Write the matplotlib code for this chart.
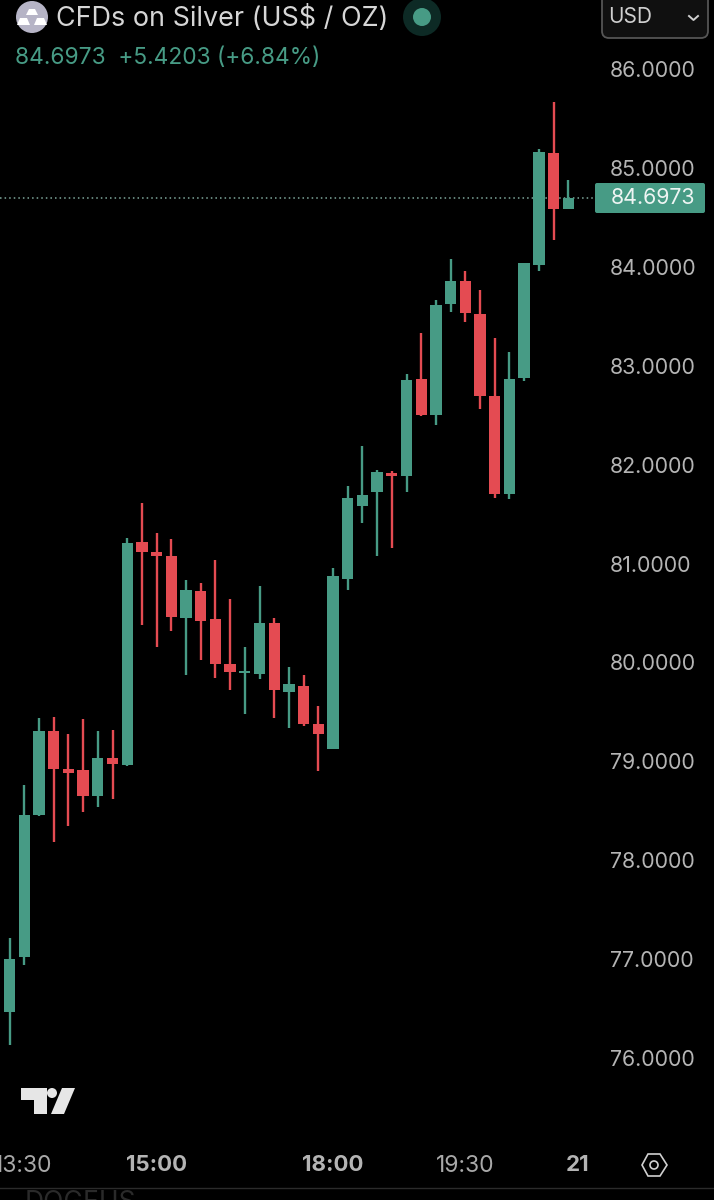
import matplotlib
matplotlib.use("Agg")
import matplotlib.pyplot as plt
from matplotlib.patches import Circle, FancyBboxPatch, Polygon

plt.rcParams['font.family'] = ['Inter', 'DejaVu Sans']

# candles, oldest first
opens = [76.46, 77.02, 78.45, 79.30, 78.92, 78.91, 78.65, 79.03, 78.96, 81.22,
         81.12, 81.08, 80.45, 80.72, 80.44, 79.98, 79.89, 79.88, 80.40, 79.70,
         79.76, 79.38, 79.12, 80.84, 81.58, 81.72, 81.92, 81.89, 82.87, 82.50,
         83.63, 83.86, 83.53, 82.70, 81.70, 82.88, 84.02, 85.15, 84.59]
highs = [77.21, 78.76, 79.44, 79.45, 79.27, 79.43, 79.30, 79.31, 81.26, 81.61,
         81.31, 81.25, 80.83, 80.80, 81.04, 80.64, 80.16, 80.77, 80.45, 79.95,
         79.87, 79.56, 80.95, 81.78, 82.19, 81.95, 81.94, 82.92, 83.33, 83.67,
         84.08, 83.96, 83.77, 83.28, 83.14, 84.04, 85.19, 85.67, 84.88]
lows = [76.13, 76.94, 78.44, 78.18, 78.34, 78.49, 78.54, 78.62, 78.95, 80.38,
        80.15, 80.32, 79.87, 80.02, 79.84, 79.72, 79.48, 79.83, 79.44, 79.34,
        79.36, 78.90, 79.12, 80.73, 81.41, 81.08, 81.16, 81.72, 82.49, 82.40,
        83.55, 83.44, 82.56, 81.66, 81.65, 82.85, 83.96, 84.27, 84.59]
closes = [77.00, 78.45, 79.30, 78.92, 78.88, 78.65, 79.03, 78.97, 81.21, 81.12,
          81.08, 80.46, 80.73, 80.42, 79.98, 79.90, 79.91, 80.40, 79.72, 79.78,
          79.38, 79.27, 80.87, 81.66, 81.69, 81.93, 81.89, 82.86, 82.50, 83.62,
          83.86, 83.54, 82.70, 81.70, 82.87, 84.04, 85.16, 84.59, 84.6973]

last_price = 84.6973
price_ticks = [76, 77, 78, 79, 80, 81, 82, 83, 84, 85, 86]
time_ticks = [0.95, 10, 22, 31, 38.6]
time_labels = ['13:30', '15:00', '18:00', '19:30', '21']
time_bold = [False, True, True, False, True]

GREEN = '#479b85'
RED = '#e44b52'

fig = plt.figure(figsize=(7.14, 12), dpi=100, facecolor='black')

# chart pane: 595 px wide, stops at y=1145 px
ax = fig.add_axes([0, 55 / 1200, 595 / 714, 1145 / 1200], facecolor='black')
colors = [GREEN if c >= o else RED for o, c in zip(opens, closes)]
idx = list(range(len(opens)))
ax.vlines(idx, lows, highs, colors=colors, linewidth=1.7, zorder=3)
ax.bar(idx, [max(abs(c - o), 0.02) for o, c in zip(opens, closes)],
       bottom=[min(o, c) for o, c in zip(opens, closes)],
       width=0.77, color=colors, linewidth=0, zorder=4)
ax.axhline(last_price, color='#7fa89c', linestyle=(0, (1, 2)), linewidth=1.1, zorder=2)

ax.set_xlim(-0.653, 39.82)
ax.set_ylim(75.115, 86.703)
for s in ax.spines.values():
    s.set_visible(False)
ax.yaxis.tick_right()
ax.set_yticks(price_ticks)
ax.set_yticklabels([f'{p:.4f}' for p in price_ticks])
ax.tick_params(axis='y', length=0, pad=10.5, labelsize=15.4, labelcolor='#b4b4b4')
ax.set_xticks(time_ticks)
ax.set_xticklabels(time_labels)
ax.tick_params(axis='x', length=0, pad=7.5, labelsize=16.5, labelcolor='#a8a8a8')
for lab, b in zip(ax.get_xticklabels(), time_bold):
    if b:
        lab.set_fontweight('bold')
        lab.set_fontsize(16)
        lab.set_color('#b4b4b4')

# everything around the chart, in image pixels
ui = fig.add_axes([0, 0, 1, 1], facecolor='none')
ui.set_xlim(0, 714)
ui.set_ylim(1200, 0)
ui.axis('off')

# symbol icon
ui.add_patch(Circle((32, 17), 16, color='#b6b4c6', lw=0))
for pts in ([(26, 15), (38, 15), (35, 9), (29, 9)],
            [(17, 25), (30, 25), (27, 18), (20, 18)],
            [(34, 25), (47, 25), (44, 18), (37, 18)]):
    ui.add_patch(Polygon(pts, closed=True, color='white', lw=0))

ui.text(56, 19, 'CFDs on Silver (US$ / OZ)', color='#d6d6d6', fontsize=19.4,
        va='center', ha='left')
ui.add_patch(Circle((422, 17), 19, color='#0d2a25', lw=0))
ui.add_patch(Circle((422, 17), 9, color=GREEN, lw=0))
ui.text(15, 58, '84.6973  +5.4203 (+6.84%)', color=GREEN, fontsize=16.4,
        va='center', ha='left')

# currency box
ui.add_patch(FancyBboxPatch((602, -12), 106, 50, boxstyle='round,pad=0,rounding_size=7',
                            fc='#101010', ec='#555555', lw=1.3))
ui.text(608, 17, 'USD', color='#cfcfcf', fontsize=15, va='center', ha='left')
ui.plot([689, 693.5, 698], [16, 20, 16], color='#cfcfcf', lw=1.4)

# last price tag
ui.add_patch(FancyBboxPatch((595, 183), 110, 30, boxstyle='round,pad=0,rounding_size=2',
                            fc=GREEN, ec='none'))
ui.text(652.5, 198.5, f'{last_price:.4f}', color='#eef5f3', fontsize=15.4,
        va='center', ha='center')

# tradingview logo
ui.add_patch(Polygon([(21, 1088), (47, 1088), (47, 1114), (34, 1114), (34, 1100), (21, 1100)],
                     closed=True, color='#e6e6e6', lw=0))
ui.add_patch(Circle((52, 1093), 5, color='#e6e6e6', lw=0))
ui.add_patch(Polygon([(62, 1088), (75, 1088), (64, 1114), (51, 1114)],
                     closed=True, color='#e6e6e6', lw=0))

# settings hexagon
ui.add_patch(Polygon([(642, 1165), (648, 1154), (660, 1154), (667, 1165), (660, 1176), (648, 1176)],
                     closed=True, fc='none', ec='#d0d0d0', lw=1.2))
ui.add_patch(Circle((654, 1165), 4, fc='none', ec='#d0d0d0', lw=1.2))

# bottom edge of the screenshot
ui.plot([0, 714], [1188, 1188], color='#2b2b2b', lw=1)
ui.text(25, 1190, 'DOGEUS', color='#2a2a2a', fontsize=19, va='top', ha='left')

fig.savefig('out.png', dpi=100, facecolor='black')
